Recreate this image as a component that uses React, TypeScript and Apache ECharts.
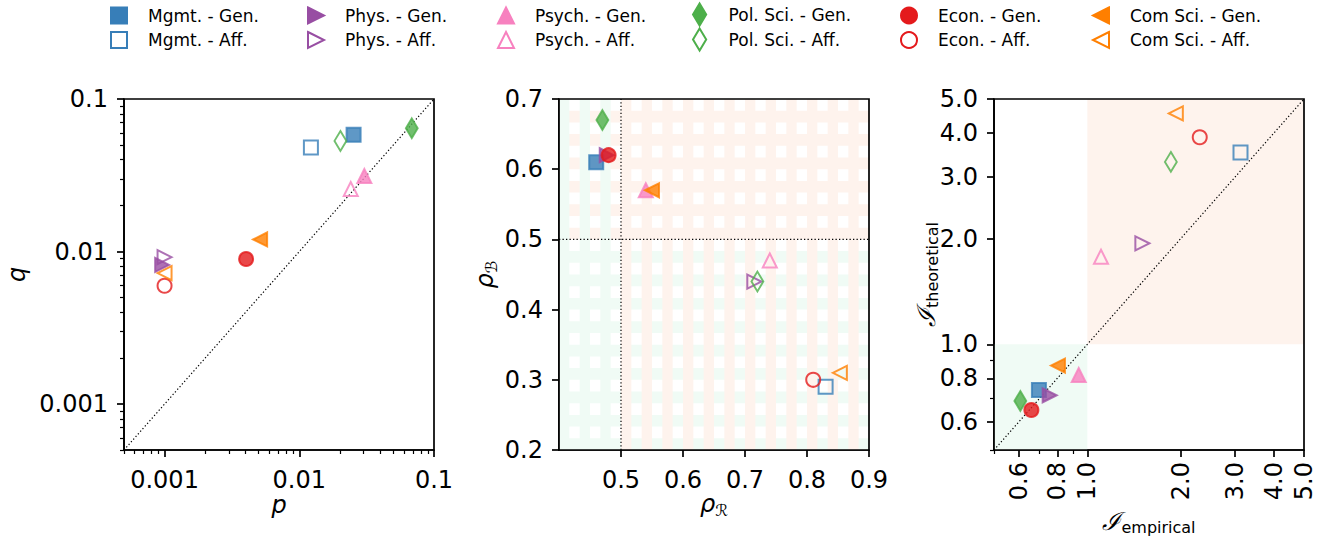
import React, { useEffect, useRef } from 'react';
import * as echarts from 'echarts';

// ---------------- data ----------------
const FIELDS = ['Mgmt.', 'Phys.', 'Psych.', 'Pol. Sci.', 'Econ.', 'Com Sci.'];
const GROUPS = ['Gen.', 'Aff.'];

// panel 1 : p vs q
const P_GEN = [0.0253, 0.00096, 0.0304, 0.0684, 0.00403, 0.00512];
const Q_GEN = [0.0582, 0.00817, 0.0313, 0.0643, 0.00893, 0.012];
const P_AFF = [0.0122, 0.001, 0.0241, 0.0202, 0.001, 0.001];
const Q_AFF = [0.048, 0.00918, 0.0257, 0.0531, 0.00597, 0.00722];

// panel 2 : rho_R vs rho_B
const RHO_R_GEN = [0.46, 0.477, 0.54, 0.47, 0.48, 0.55];
const RHO_B_GEN = [0.61, 0.62, 0.57, 0.67, 0.62, 0.57];
const RHO_R_AFF = [0.83, 0.715, 0.74, 0.72, 0.81, 0.853];
const RHO_B_AFF = [0.29, 0.44, 0.47, 0.44, 0.3, 0.31];

// panel 3 : I empirical vs I theoretical
const EMP_GEN = [0.698, 0.756, 0.938, 0.608, 0.66, 0.804];
const THEO_GEN = [0.741, 0.716, 0.818, 0.69, 0.65, 0.87];
const EMP_AFF = [3.12, 1.505, 1.107, 1.86, 2.305, 1.93];
const THEO_AFF = [3.52, 1.94, 1.777, 3.31, 3.89, 4.55];

// axes / ticks
const PQ_RANGE = [0.0005, 0.1];
const PQ_MAJOR = [0.001, 0.01, 0.1];
const PQ_LABELS = ['0.001', '0.01', '0.1'];
const PQ_MINOR = [0.0005, 0.0006, 0.0007, 0.0008, 0.0009, 0.002, 0.003, 0.004, 0.005, 0.006, 0.007, 0.008, 0.009, 0.02, 0.03, 0.04, 0.05, 0.06, 0.07, 0.08, 0.09];

const RHO_R_RANGE = [0.4, 0.9];
const RHO_R_TICKS = [0.5, 0.6, 0.7, 0.8, 0.9];
const RHO_R_LABELS = ['0.5', '0.6', '0.7', '0.8', '0.9'];
const RHO_B_RANGE = [0.2, 0.7];
const RHO_B_TICKS = [0.2, 0.3, 0.4, 0.5, 0.6, 0.7];
const RHO_B_LABELS = ['0.2', '0.3', '0.4', '0.5', '0.6', '0.7'];
const RHO_SPLIT = 0.5;
const STRIPES = 30;

const I_RANGE = [0.5, 5];
const I_MAJOR = [0.6, 0.8, 1, 2, 3, 4, 5];
const I_LABELS = ['0.6', '0.8', '1.0', '2.0', '3.0', '4.0', '5.0'];
const I_MINOR = [0.5, 0.7, 0.9];
const I_SPLIT = 1;

// ---------------- styles ----------------
const FONT = 'DejaVu Sans';
const COLORS = ['#377eb8', '#984ea3', '#f781bf', '#4daf4a', '#e41a1c', '#ff7f00'];
const MARKERS: any[] = [
  { symbol: 'rect', rotate: 0, size: 14 },
  { symbol: 'triangle', rotate: -90, size: 14 },
  { symbol: 'triangle', rotate: 0, size: 14 },
  { symbol: 'diamond', rotate: 0, size: [11.9, 19.8] },
  { symbol: 'circle', rotate: 0, size: 14 },
  { symbol: 'triangle', rotate: 90, size: 14 },
];
const LEGEND_ICONS = [
  'path://M0,0L10,0L10,10L0,10Z',
  'path://M0,0L10,5L0,10Z',
  'path://M5,0L10,10L0,10Z',
  'path://M3,0L6,5L3,10L0,5Z',
  'circle',
  'path://M10,0L0,5L10,10Z',
];
const LEG_LEFT = [110, 307, 497, 692, 900, 1092];
const PINK = '#fef3ed';
const GREEN = '#f0fbf5';
const GRIDS = [
  { left: 124, top: 99, width: 310, height: 351 },
  { left: 559, top: 99, width: 310, height: 351 },
  { left: 994, top: 99, width: 310, height: 351 },
];

const lg = (v: number) => Math.log10(v);
const id = (v: number) => v;

function labelFor(ticks: number[], labels: string[], tf: (v: number) => number) {
  return (val: number) => {
    let best = -1;
    let bd = Infinity;
    ticks.forEach((t, i) => {
      const d = Math.abs(tf(t) - val);
      if (d < bd) { bd = d; best = i; }
    });
    return bd < 1e-6 ? labels[best] : '';
  };
}

function mainAxis(kind: 'x' | 'y', grid: number, range: number[], ticks: number[], labels: string[], tf: (v: number) => number, extra: any = {}) {
  const vals = ticks.map(tf);
  return {
    type: 'value',
    gridIndex: grid,
    position: kind === 'x' ? 'bottom' : 'left',
    min: tf(range[0]),
    max: tf(range[1]),
    axisLine: { show: true, onZero: false, lineStyle: { color: '#000', width: 1.7 } },
    axisTick: { show: true, customValues: vals, length: 7, lineStyle: { color: '#000', width: 1.7 } },
    axisLabel: {
      show: true,
      customValues: vals,
      formatter: labelFor(ticks, labels, tf),
      margin: kind === 'x' ? 18 : 16,
      fontSize: 24,
      lineHeight: 24,
      fontFamily: FONT,
      color: '#000',
      ...extra,
    },
    splitLine: { show: false },
  };
}

function minorAxis(kind: 'x' | 'y', grid: number, range: number[], minor: number[], tf: (v: number) => number) {
  const vals = minor.map(tf);
  return {
    type: 'value',
    gridIndex: grid,
    position: kind === 'x' ? 'bottom' : 'left',
    min: tf(range[0]),
    max: tf(range[1]),
    axisLine: { show: false, onZero: false },
    axisTick: { show: true, customValues: vals, length: 4, lineStyle: { color: '#000', width: 1.2 } },
    axisLabel: { show: false, customValues: vals },
    splitLine: { show: false },
  };
}

function rectRender(params: any, api: any) {
  const p0 = api.coord([api.value(0), api.value(2)]);
  const p1 = api.coord([api.value(1), api.value(3)]);
  return {
    type: 'rect',
    shape: {
      x: Math.min(p0[0], p1[0]),
      y: Math.min(p0[1], p1[1]),
      width: Math.abs(p1[0] - p0[0]),
      height: Math.abs(p1[1] - p0[1]),
    },
    style: { fill: api.value(4) ? PINK : GREEN },
  };
}

function buildOption() {
  // middle panel striped background (rows first, then columns on top)
  const stripeData: number[][] = [];
  const hStep = (RHO_B_RANGE[1] - RHO_B_RANGE[0]) / STRIPES;
  const wStep = (RHO_R_RANGE[1] - RHO_R_RANGE[0]) / STRIPES;
  for (let r = 0; r < STRIPES; r += 2) {
    const y0 = RHO_B_RANGE[0] + r * hStep;
    stripeData.push([RHO_R_RANGE[0], RHO_R_RANGE[1], y0, y0 + hStep, y0 >= RHO_SPLIT - 1e-9 ? 1 : 0]);
  }
  for (let c = 0; c < STRIPES; c += 2) {
    const x0 = RHO_R_RANGE[0] + c * wStep;
    stripeData.push([x0, x0 + wStep, RHO_B_RANGE[0], RHO_B_RANGE[1], x0 >= RHO_SPLIT - 1e-9 ? 1 : 0]);
  }
  // right panel regions
  const regionData = [
    [lg(I_RANGE[0]), lg(I_SPLIT), lg(I_RANGE[0]), lg(I_SPLIT), 0],
    [lg(I_SPLIT), lg(I_RANGE[1]), lg(I_SPLIT), lg(I_RANGE[1]), 1],
  ];

  const dotted = { color: '#000', width: 1.2, type: [1.3, 2.2] };
  const lineBase = { type: 'line', symbol: 'none', silent: true, z: 2, animation: false, lineStyle: dotted };

  const series: any[] = [
    {
      type: 'custom', xAxisIndex: 2, yAxisIndex: 2, silent: true, z: 1,
      encode: { x: [0, 1], y: [2, 3] }, data: stripeData, renderItem: rectRender,
    },
    {
      type: 'custom', xAxisIndex: 3, yAxisIndex: 3, silent: true, z: 1,
      encode: { x: [0, 1], y: [2, 3] }, data: regionData, renderItem: rectRender,
    },
    { ...lineBase, xAxisIndex: 0, yAxisIndex: 0, data: [[lg(PQ_RANGE[0]), lg(PQ_RANGE[0])], [lg(PQ_RANGE[1]), lg(PQ_RANGE[1])]] },
    { ...lineBase, xAxisIndex: 2, yAxisIndex: 2, data: [[RHO_SPLIT, RHO_B_RANGE[0]], [RHO_SPLIT, RHO_B_RANGE[1]]] },
    { ...lineBase, xAxisIndex: 2, yAxisIndex: 2, data: [[RHO_R_RANGE[0], RHO_SPLIT], [RHO_R_RANGE[1], RHO_SPLIT]] },
    { ...lineBase, xAxisIndex: 3, yAxisIndex: 3, data: [[lg(I_RANGE[0]), lg(I_RANGE[0])], [lg(I_RANGE[1]), lg(I_RANGE[1])]] },
  ];

  const panels = [
    { ax: 0, tf: lg, xs: [P_GEN, P_AFF], ys: [Q_GEN, Q_AFF] },
    { ax: 2, tf: id, xs: [RHO_R_GEN, RHO_R_AFF], ys: [RHO_B_GEN, RHO_B_AFF] },
    { ax: 3, tf: lg, xs: [EMP_GEN, EMP_AFF], ys: [THEO_GEN, THEO_AFF] },
  ];
  panels.forEach((pn) => {
    FIELDS.forEach((f, i) => {
      GROUPS.forEach((g, gi) => {
        const m = MARKERS[i];
        series.push({
          type: 'scatter',
          name: `${f} - ${g}`,
          xAxisIndex: pn.ax,
          yAxisIndex: pn.ax,
          z: 3,
          silent: true,
          symbol: m.symbol,
          symbolSize: m.size,
          symbolRotate: m.rotate,
          data: [[pn.tf(pn.xs[gi][i]), pn.tf(pn.ys[gi][i])]],
          itemStyle: {
            color: gi === 0 ? COLORS[i] : 'rgba(255,255,255,0)',
            borderColor: COLORS[i],
            borderWidth: 2,
            opacity: 0.8,
          },
          emphasis: { disabled: true },
        });
      });
    });
  });

  const legends = FIELDS.map((f, i) => {
    const diamond = i === 3;
    const ih = diamond ? 22 : 16;
    return {
      orient: 'vertical',
      left: LEG_LEFT[i],
      top: diamond ? 2.5 : 6.5,
      padding: 0,
      itemWidth: 48,
      itemHeight: ih,
      itemGap: diamond ? 1 : 6.5,
      symbolRotate: 0,
      selectedMode: false,
      itemStyle: { opacity: 1 },
      textStyle: { fontSize: 17, fontFamily: FONT, color: '#000' },
      data: GROUPS.map((g) => ({ name: `${f} - ${g}`, icon: LEGEND_ICONS[i] })),
    };
  });

  const rich = {
    m: { fontSize: 24, fontStyle: 'italic', fontFamily: FONT, color: '#000', verticalAlign: 'top', lineHeight: 26 },
    r: { fontSize: 25, fontStyle: 'italic', fontFamily: 'DejaVu Serif', color: '#000', verticalAlign: 'top', lineHeight: 26 },
    s: { fontSize: 16, fontFamily: FONT, color: '#000', verticalAlign: 'bottom', lineHeight: 18, padding: [12, 0, 0, 0] },
  };
  const plainTitle = { fontSize: 24, lineHeight: 20, fontStyle: 'italic', fontFamily: FONT, fill: '#000', align: 'center', verticalAlign: 'middle' };
  const richTitle = (text: string) => ({ text, rich, fill: '#000', align: 'center', verticalAlign: 'middle' });

  const graphic: any[] = [
    ...GRIDS.map((g) => ({
      type: 'rect', silent: true, z: 100,
      shape: { x: g.left, y: g.top, width: g.width, height: g.height },
      style: { fill: 'none', stroke: '#000', lineWidth: 1.7 },
    })),
    { type: 'text', x: 279, y: 505, silent: true, style: { text: 'p', ...plainTitle } },
    { type: 'text', x: 17, y: 274.5, rotation: Math.PI / 2, silent: true, style: { text: 'q', ...plainTitle } },
    { type: 'text', x: 714, y: 505, silent: true, style: richTitle('{m|ρ}{s|ℛ}') },
    { type: 'text', x: 486, y: 274.5, rotation: Math.PI / 2, silent: true, style: richTitle('{m|ρ}{s|ℬ}') },
    { type: 'text', x: 1149, y: 522, silent: true, style: richTitle('{r|ℐ}{s|empirical}') },
    { type: 'text', x: 927, y: 274.5, rotation: Math.PI / 2, silent: true, style: richTitle('{r|ℐ}{s|theoretical}') },
  ];

  return {
    animation: false,
    backgroundColor: '#fff',
    textStyle: { fontFamily: FONT },
    grid: GRIDS.map((g) => ({ ...g, containLabel: false, outerBoundsMode: 'none', show: false })),
    xAxis: [
      mainAxis('x', 0, PQ_RANGE, PQ_MAJOR, PQ_LABELS, lg),
      minorAxis('x', 0, PQ_RANGE, PQ_MINOR, lg),
      mainAxis('x', 1, RHO_R_RANGE, RHO_R_TICKS, RHO_R_LABELS, id),
      mainAxis('x', 2, I_RANGE, I_MAJOR, I_LABELS, lg, { rotate: 90, margin: 12 }),
      minorAxis('x', 2, I_RANGE, I_MINOR, lg),
    ],
    yAxis: [
      mainAxis('y', 0, PQ_RANGE, PQ_MAJOR, PQ_LABELS, lg),
      minorAxis('y', 0, PQ_RANGE, PQ_MINOR, lg),
      mainAxis('y', 1, RHO_B_RANGE, RHO_B_TICKS, RHO_B_LABELS, id),
      mainAxis('y', 2, I_RANGE, I_MAJOR, I_LABELS, lg),
      minorAxis('y', 2, I_RANGE, I_MINOR, lg),
    ],
    legend: legends,
    graphic,
    series,
  };
}

export default function App() {
  const ref = useRef<HTMLDivElement>(null);
  useEffect(() => {
    if (!ref.current) return;
    const chart = echarts.init(ref.current, undefined, { renderer: 'svg' });
    chart.setOption(buildOption() as any);
    return () => chart.dispose();
  }, []);
  return (
    <div
      ref={ref}
      style={{ position: 'fixed', left: 0, top: 0, width: 1330, height: 538, background: '#fff' }}
    />
  );
}
